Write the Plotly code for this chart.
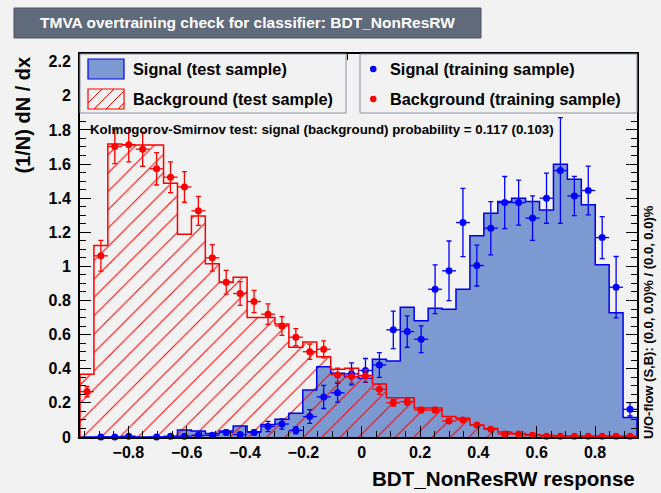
import plotly.graph_objects as go

# ---------------- data ----------------
x_min = -0.966
x_max = 0.944
n_bins = 40

sig_test = [0.0, 0.0, 0.0, 0.0, 0.0, 0.0, 0.0, 0.041, 0.035, 0.02, 0.035, 0.065, 0.031, 0.074,
            0.104, 0.139, 0.276, 0.412, 0.373, 0.354, 0.344, 0.456, 0.446, 0.761, 0.682, 0.755,
            0.749, 0.866, 1.179, 1.312, 1.380, 1.400, 1.380, 1.331, 1.599, 1.511, 1.361, 1.009,
            0.729, 0.115]

bkg_test = [0.368, 1.122, 1.718, 1.712, 1.712, 1.712, 1.488, 1.189, 1.296, 1.015, 0.907, 0.937,
            0.700, 0.700, 0.663, 0.526, 0.557, 0.471, 0.397, 0.403, 0.36, 0.31, 0.23, 0.23,
            0.17, 0.17, 0.12, 0.11, 0.07, 0.05, 0.03, 0.02, 0.015, 0.01, 0.008, 0.005, 0.005,
            0.005, 0.005, 0.005]

sig_train = [None, 0.0, 0.0, 0.005, None, 0.0, 0.005, 0.005, 0.01, 0.01, 0.027, 0.014, 0.027,
             0.062, 0.076, 0.039, 0.12, 0.235, 0.259, 0.37, 0.39, 0.422, 0.628, 0.618, 0.573,
             0.866, 0.974, 1.257, 1.005, 1.224, 1.374, 1.374, 1.283, 1.400, 1.562, 1.413, 1.445,
             1.169, 0.878, 0.162]
sig_train_err = [0, 0.003, 0.003, 0.005, 0, 0.003, 0.005, 0.005, 0.008, 0.008, 0.015, 0.01, 0.015,
                 0.03, 0.03, 0.02, 0.04, 0.068, 0.055, 0.065, 0.07, 0.073, 0.11, 0.092, 0.078,
                 0.143, 0.175, 0.2, 0.12, 0.156, 0.153, 0.132, 0.13, 0.147, 0.31, 0.115, 0.143,
                 0.123, 0.18, 0.039]

bkg_train = [0.266, 1.062, 1.703, 1.713, 1.687, 1.572, 1.523, 1.466, 1.326, 1.050, 0.907, 0.841,
             0.794, 0.720, 0.651, 0.585, 0.500, 0.514, 0.364, 0.354, 0.358, 0.28, 0.201, 0.207,
             0.158, 0.158, 0.094, 0.10, 0.07, 0.045, 0.018, 0.018, 0.01, 0.005, 0.005, 0.005,
             0.005, 0.005, 0.005, 0.005]
bkg_train_err = [0.03, 0.09, 0.10, 0.10, 0.10, 0.095, 0.09, 0.09, 0.085, 0.078, 0.07, 0.07, 0.065,
                 0.06, 0.055, 0.05, 0.045, 0.05, 0.04, 0.04, 0.035, 0.03, 0.02, 0.02, 0.015, 0.015,
                 0.01, 0.01, 0.008, 0.006, 0.005, 0.005, 0.004, 0.003, 0.003, 0.003, 0.003, 0.003,
                 0.003, 0.003]

x_ticks = [-0.8, -0.6, -0.4, -0.2, 0, 0.2, 0.4, 0.6, 0.8]
y_max = 2.245

title_text = "TMVA overtraining check for classifier: BDT_NonResRW"
ks_text = "Kolmogorov-Smirnov test: signal (background) probability = 0.117 (0.103)"
uo_text = "U/O-flow (S,B): (0.0, 0.0)% / (0.0, 0.0)%"
x_title = "BDT_NonResRW response"
y_title = "(1/N) dN / dx"
legend_labels = ["Signal (test sample)", "Background (test sample)",
                 "Signal (training sample)", "Background (training sample)"]

# ---------------- derived ----------------
bw = (x_max - x_min) / n_bins
edges = [x_min + i * bw for i in range(n_bins + 1)]
centers = [x_min + (i + 0.5) * bw for i in range(n_bins)]

W, H = 661, 493
L, R, T, B = 80, 637, 54, 437


def px(x):
    return (x - L) / (R - L)


def py(y):
    return (B - y) / (B - T)


def step(vals):
    xs = [edges[0]] + edges[:n_bins] + [edges[-1], edges[-1]]
    ys = [0] + list(vals) + [vals[-1], 0]
    return xs, ys


SIG_FILL = "#7d99d1"
SIG_LINE = "#0000ee"
RED = "#ff0000"
FONT = "Liberation Sans"

fig = go.Figure()

# signal test histogram (filled)
fig.add_trace(go.Bar(x=centers, y=sig_test, width=bw, marker=dict(color=SIG_FILL, line=dict(width=0)),
                     showlegend=False, hoverinfo="skip"))
sx, sy = step(sig_test)
fig.add_trace(go.Scatter(x=sx, y=sy, mode="lines", line=dict(color=SIG_LINE, width=1.5, shape="hv"),
                         showlegend=False, hoverinfo="skip"))

# background test histogram (hatched)
fig.add_trace(go.Bar(x=centers, y=bkg_test, width=bw,
                     marker=dict(color="rgba(0,0,0,0)", line=dict(width=0),
                                 pattern=dict(shape="/", fgcolor=RED, bgcolor="rgba(0,0,0,0)",
                                              size=13, solidity=0.08, fgopacity=1)),
                     showlegend=False, hoverinfo="skip"))
bx, by = step(bkg_test)
fig.add_trace(go.Scatter(x=bx, y=by, mode="lines", line=dict(color=RED, width=1.5, shape="hv"),
                         showlegend=False, hoverinfo="skip"))

# training points
fig.add_trace(go.Scatter(x=centers, y=sig_train, mode="markers", cliponaxis=False,
                         marker=dict(color="#0000ff", size=7),
                         error_y=dict(type="data", array=sig_train_err, color="#0000ff", thickness=1.3, width=2.5),
                         error_x=dict(type="constant", value=bw / 2, color="#0000ff", thickness=1.3, width=0),
                         showlegend=False, hoverinfo="skip"))
fig.add_trace(go.Scatter(x=centers, y=bkg_train, mode="markers", cliponaxis=False,
                         marker=dict(color=RED, size=7),
                         error_y=dict(type="data", array=bkg_train_err, color=RED, thickness=1.3, width=2.5),
                         error_x=dict(type="constant", value=bw / 2, color=RED, thickness=1.3, width=0),
                         showlegend=False, hoverinfo="skip"))

shapes = []
annotations = []

# title box
shapes.append(dict(type="rect", xref="paper", yref="paper", x0=px(14), x1=px(481), y0=py(38), y1=py(8),
                   fillcolor="#5f6b7b", line=dict(color="#4a5563", width=1)))
annotations.append(dict(xref="paper", yref="paper", x=px(247.5), y=py(23), text=title_text, showarrow=False,
                        font=dict(family=FONT, size=15.5, color="white", weight="bold"),
                        xanchor="center", yanchor="middle"))

# legend boxes
for (x0, x1) in [(80, 346), (360, 637)]:
    shapes.append(dict(type="rect", xref="paper", yref="paper", x0=px(x0), x1=px(x1), y0=py(113), y1=py(54),
                       fillcolor="#f2f2f2", line=dict(color="#8a94a0", width=1), layer="above"))
# signal swatch
shapes.append(dict(type="rect", xref="paper", yref="paper", x0=px(88), x1=px(124), y0=py(79), y1=py(59),
                   fillcolor=SIG_FILL, line=dict(color=SIG_LINE, width=1.2), layer="above"))
# background swatch (hatched)
shapes.append(dict(type="rect", xref="paper", yref="paper", x0=px(88), x1=px(124), y0=py(109), y1=py(89),
                   fillcolor="rgba(0,0,0,0)", line=dict(color=RED, width=1.2), layer="above"))
for k in range(4):
    xa = 88 + k * 12
    x_start, y_start = xa - 6, 109
    x_end, y_end = xa + 14, 89
    if x_start < 88:
        y_start -= (88 - x_start)
        x_start = 88
    if x_end > 124:
        y_end += (x_end - 124)
        x_end = 124
    if x_start < x_end:
        shapes.append(dict(type="line", xref="paper", yref="paper", x0=px(x_start), y0=py(y_start),
                           x1=px(x_end), y1=py(y_end), line=dict(color=RED, width=1), layer="above"))
# dots
for yy, col in [(69, "#0000ff"), (99, RED)]:
    shapes.append(dict(type="circle", xref="paper", yref="paper", x0=px(370), x1=px(376.5), y0=py(yy + 3.25),
                       y1=py(yy - 3.25), fillcolor=col, line=dict(color=col, width=0), layer="above"))

for txt, xx, yy in [(legend_labels[0], 131, 69), (legend_labels[1], 131, 99),
                    (legend_labels[2], 388, 69), (legend_labels[3], 388, 99)]:
    annotations.append(dict(xref="paper", yref="paper", x=px(xx), y=py(yy), text=txt, showarrow=False,
                            font=dict(family=FONT, size=16.3, color="black", weight="bold"),
                            xanchor="left", yanchor="middle"))

annotations.append(dict(xref="paper", yref="paper", x=px(88), y=py(129), text=ks_text, showarrow=False,
                        font=dict(family=FONT, size=13.3, color="black", weight="bold"),
                        xanchor="left", yanchor="middle"))

annotations.append(dict(xref="paper", yref="paper", x=px(637), y=py(478), text=x_title, showarrow=False,
                        font=dict(family=FONT, size=20.6, color="black", weight="bold"),
                        xanchor="right", yanchor="middle"))
annotations.append(dict(xref="paper", yref="paper", x=px(22), y=py(55), text=y_title, showarrow=False,
                        textangle=-90, font=dict(family=FONT, size=20, color="black", weight="bold"),
                        xanchor="center", yanchor="top"))
annotations.append(dict(xref="paper", yref="paper", x=px(648), y=py(441), text=uo_text, showarrow=False,
                        textangle=-90, font=dict(family=FONT, size=13, color="black", weight="bold"),
                        xanchor="center", yanchor="bottom"))

fig.update_layout(
    width=W, height=H,
    margin=dict(l=L, r=W - R, t=T, b=H - B, pad=0),
    paper_bgcolor="#f2f2f2", plot_bgcolor="#f2f2f2",
    barmode="overlay", bargap=0,
    showlegend=False,
    shapes=shapes, annotations=annotations,
    font=dict(family=FONT),
)
fig.update_xaxes(range=[x_min, x_max], tickvals=x_ticks, ticks="inside", ticklen=11, tickwidth=1,
                 tickcolor="black", showline=True, linecolor="black", linewidth=2, mirror="ticks",
                 showgrid=False, zeroline=False,
                 tickfont=dict(family=FONT, size=16, color="black", weight="bold"),
                 minor=dict(dtick=0.05, ticks="inside", ticklen=6, tickcolor="black", showgrid=False))
fig.update_yaxes(range=[0, y_max], dtick=0.2, tick0=0, ticks="inside", ticklen=11, tickwidth=1,
                 tickcolor="black", showline=True, linecolor="black", linewidth=2, mirror="ticks",
                 showgrid=False, zeroline=False, ticklabelstandoff=4,
                 tickfont=dict(family=FONT, size=16, color="black", weight="bold"),
                 minor=dict(dtick=0.05, ticks="inside", ticklen=6, tickcolor="black", showgrid=False))

fig.write_html("out.html", config={"displayModeBar": False},
               post_script="document.body.style.margin='0';document.body.style.background='#f2f2f2';"
                           "document.body.style.overflow='hidden';")
